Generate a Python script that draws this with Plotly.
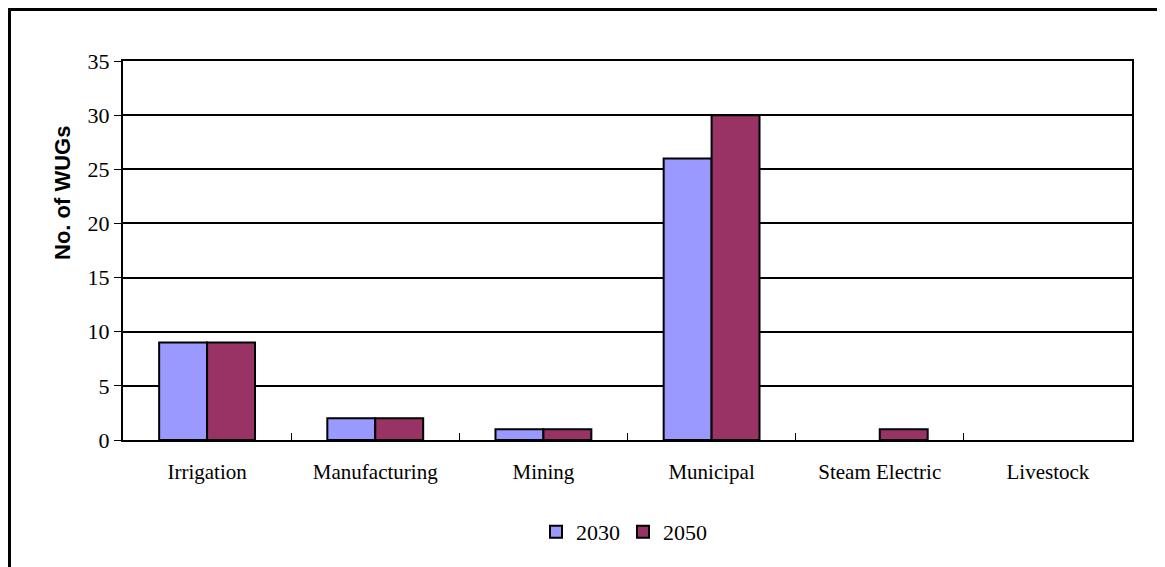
import plotly.graph_objects as go

categories = ["Irrigation", "Manufacturing", "Mining", "Municipal", "Steam Electric", "Livestock"]
values_2030 = [9, 2, 1, 26, 0, 0]
values_2050 = [9, 2, 1, 30, 1, 0]
series_names = ["2030", "2050"]
y_ticks = [0, 5, 10, 15, 20, 25, 30, 35]
y_title = "No. of WUGs"

def outline(vals):
    return [2 if v > 0 else 0 for v in vals]

fig = go.Figure()
fig.add_trace(go.Bar(x=categories, y=values_2030, name=series_names[0],
                     marker=dict(color="#9999FF", line=dict(color="black", width=outline(values_2030)))))
fig.add_trace(go.Bar(x=categories, y=values_2050, name=series_names[1],
                     marker=dict(color="#993366", line=dict(color="black", width=outline(values_2050)))))

# page has an 8px body margin; work in figure coordinates (page - 8)
OFF = 8
W, H = 1165 - OFF, 567 - OFF
L, R, T, B = 123 - OFF, 1132 - OFF, 61 - OFF, 440 - OFF
pw, ph = R - L, B - T
fig.update_layout(
    width=W, height=H,
    margin=dict(l=L, r=W - R, t=T, b=H - B),
    paper_bgcolor="white", plot_bgcolor="white",
    barmode="group", bargap=0.43, bargroupgap=0,
    font=dict(family="Liberation Serif", size=21, color="black"),
    showlegend=True,
    legend=dict(orientation="h", x=((623 - OFF) - L) / pw, xanchor="center",
                y=(B - (532 - OFF)) / ph, yanchor="middle",
                font=dict(family="Liberation Serif", size=22, color="black"),
                itemwidth=30, entrywidth=42, entrywidthmode="pixels", traceorder="normal"),
    xaxis=dict(type="category", showline=True, linecolor="black", linewidth=2, mirror=True,
               ticks="inside", tickson="boundaries", ticklen=7, tickcolor="black", tickwidth=1,
               ticklabelstandoff=12,
               showgrid=False, tickfont=dict(family="Liberation Serif", size=21)),
    yaxis=dict(range=[0, 35], tickvals=y_ticks, showline=True, linecolor="black", linewidth=2, mirror=True,
               ticks="outside", ticklen=7, tickcolor="black", tickwidth=1,
               showgrid=True, gridcolor="black", gridwidth=2, zeroline=False,
               tickfont=dict(family="Liberation Serif", size=22)),
)

fig.add_annotation(text="<b>" + y_title + "</b>", xref="paper", yref="paper",
                   x=((62 - OFF) - L) / pw, y=(B - (193 - OFF)) / ph,
                   xanchor="center", yanchor="middle", textangle=-90, showarrow=False,
                   font=dict(family="Liberation Sans", size=22, color="black"))

fig.add_shape(type="rect", xref="paper", yref="paper",
              x0=(1.5 - L) / pw, x1=(1153 - L) / pw,
              y0=(B - 600) / ph, y1=(B - 1.5) / ph,
              line=dict(color="black", width=3), fillcolor="rgba(0,0,0,0)", layer="below")

fig.write_html("out.html")
